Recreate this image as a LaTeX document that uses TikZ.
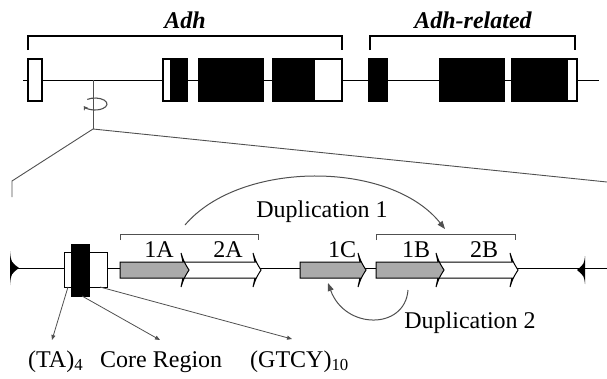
\documentclass[tikz,border=0pt]{standalone}
\usepackage{fontspec}
\setmainfont{Liberation Serif}
\usetikzlibrary{arrows.meta}
\definecolor{exongray}{RGB}{170,170,170}
\definecolor{linegray}{RGB}{80,80,80}
% gene arrow: #1 name, #2 body start x, #3 body end x, #4 fill colour
\newcommand{\genearrow}[4]{%
  \draw[line width=1pt, fill=#4] (#2,262) -- (#3,262) -- (#3-2,253)
    .. controls (#3+1,262) .. (#3+6,270) .. controls (#3+1,278) .. (#3-2,287)
    -- (#3,278) -- (#2,278) -- cycle;
  \coordinate (#1) at ({(#2+#3)/2},270);
}
\begin{document}
\begin{tikzpicture}[x=1pt, y=-1pt,
  every node/.style={inner sep=0pt},
  txt/.style={font=\fontsize{24}{28}\selectfont},
  genename/.style={font=\fontsize{24}{28}\selectfont\bfseries\itshape},
  exon/.style={draw=black, line width=1.4pt},
  bracket/.style={draw=black, line width=1.4pt},
  subbracket/.style={draw=linegray, line width=1pt},
  chrom/.style={draw=black, line width=1pt},
  zoomline/.style={draw=linegray, line width=0.9pt},
  pointer/.style={draw=linegray, line width=0.8pt, -{Triangle[length=5pt,width=4pt]}},
  duparrow/.style={draw=linegray, line width=1pt, -{Triangle[length=8pt,width=6pt]}}]
\useasboundingbox (0,0) rectangle (607,378);

% ---------- upper map: Adh and Adh-related ----------
\draw[chrom] (23,80) -- (599,80);
\draw[exon, fill=white] (28,59) rectangle (42,101);
\draw[exon, fill=white] (163,59) rectangle (171,101);
\draw[exon, fill=black] (171,59) rectangle (187,101);
\draw[exon, fill=black] (199,59) rectangle (263,101);
\draw[exon, fill=black] (273,59) rectangle (314,101);
\draw[exon, fill=white] (314,59) rectangle (342,101);
\draw[exon, fill=black] (369,59) rectangle (387,101);
\draw[exon, fill=black] (440,59) rectangle (504,101);
\draw[exon, fill=black] (512,59) rectangle (567,101);
\draw[exon, fill=white] (567,59) rectangle (577,101);

\draw[bracket] (28,50) -- (28,36) -- (342,36) -- (342,50);
\draw[bracket] (370,50) -- (370,36) -- (575,36) -- (575,50);
\node[genename, anchor=base] (adh) at (185,28) {Adh};
\node[genename, anchor=base] (adhr) at (473,28) {Adh-related};

% inversion point and zoom lines
\coordinate (inv) at (93,80);
\coordinate (fork) at (93,129);
\draw[zoomline] (inv) -- (fork);
\coordinate (rot) at (95,104);
\draw[draw=linegray, line width=1.1pt, -{Stealth[length=4pt,width=5pt]}]
  (rot) ++(230:12 and 6) arc[start angle=230, end angle=520, x radius=12, y radius=6];
\coordinate (zl1) at (12,181);
\coordinate (zl0) at (12,197);
\coordinate (zr) at (607,182);
\draw[zoomline] (zl0) -- (zl1) -- (fork) -- (zr);

% ---------- lower map: regulatory region ----------
\draw[chrom] (10,268) -- (607,268);
\fill (10,251) .. controls (11,262) .. (19,268) .. controls (11,274) .. (10,285) -- cycle;
\fill (585,256) .. controls (584,264) .. (577,270) .. controls (584,276) .. (585,284) -- cycle;

% promoter boxes
\draw[line width=1pt, fill=white] (64,252) rectangle (107,287);
\draw[line width=1pt, fill=black] (71,244) rectangle (89,296);

% repeat units
\genearrow{u2A}{183}{255}{white}
\genearrow{u1A}{120}{183}{exongray}
\genearrow{u2B}{438}{512}{white}
\genearrow{u1B}{376}{438}{exongray}
\genearrow{u1C}{300}{360}{exongray}

\node[txt, anchor=base] (l1A) at (159,257) {1A};
\node[txt, anchor=base] (l2A) at (228,257) {2A};
\node[txt, anchor=base] (l1C) at (342,257) {1C};
\node[txt, anchor=base] (l1B) at (416,257) {1B};
\node[txt, anchor=base] (l2B) at (484,257) {2B};

% brackets over the duplicated blocks
\draw[subbracket] (120,240) -- (120,234) -- (258,234) -- (258,240);
\draw[subbracket] (376,240) -- (376,234) -- (515,234) -- (515,240);
\coordinate (blockA) at (185,225);
\coordinate (blockB) at (445,229);

% duplication events
\draw[duparrow] (blockA) .. controls (240,160) and (390,160) .. (blockB);
\node[txt, anchor=base] (dup1) at (322,217) {Duplication 1};
\coordinate (from1B) at (408,290);
\coordinate (to1C) at (328,283);
\draw[duparrow] (from1B) .. controls (405,330) and (345,330) .. (to1C);
\node[txt, anchor=base] (dup2) at (470,328) {Duplication 2};

% promoter element labels
\node[txt, anchor=base west] (ta) at (28,367) {(TA)\textsubscript{4}};
\node[txt, anchor=base west] (core) at (100,367) {Core Region};
\node[txt, anchor=base west] (gtcy) at (250,367) {(GTCY)\textsubscript{10}};
\coordinate (taFoot) at (68,287);
\coordinate (coreFoot) at (82,296);
\coordinate (gtcyFoot) at (100,287);
\coordinate (taTip) at (52,340);
\coordinate (coreTip) at (160,340);
\coordinate (gtcyTip) at (292,339);
\draw[pointer] (taFoot) -- (taTip);
\draw[pointer] (coreFoot) -- (coreTip);
\draw[pointer] (gtcyFoot) -- (gtcyTip);
\end{tikzpicture}
\end{document}
